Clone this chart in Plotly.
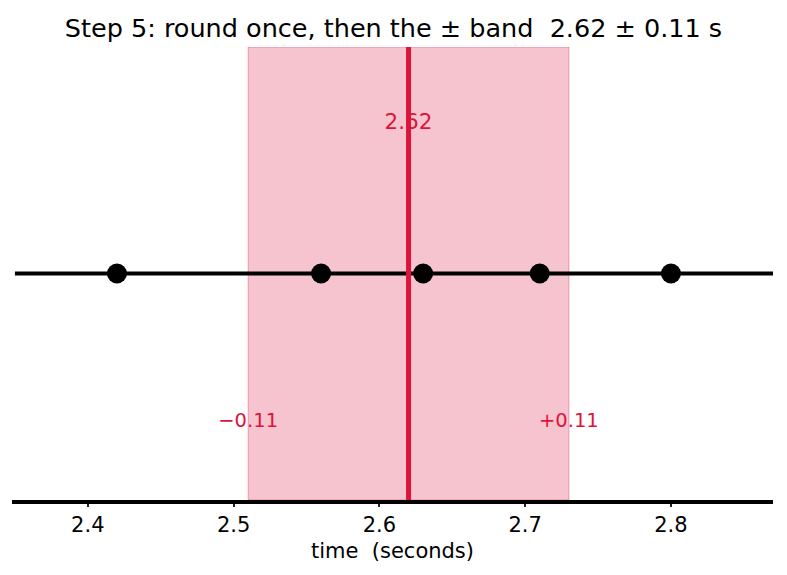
import plotly.graph_objects as go

# data
times = [2.42, 2.56, 2.63, 2.71, 2.80]
mean_val = 2.62
half_width = 0.11
x_range = [2.348, 2.870]
line_range = [2.350, 2.870]
tick_vals = [2.4, 2.5, 2.6, 2.7, 2.8]
tick_text = ["2.4", "2.5", "2.6", "2.7", "2.8"]

RED = "#dc143c"
FONT = "DejaVu Sans"

fig = go.Figure()

# black timeline
fig.add_trace(go.Scatter(x=line_range, y=[0, 0], mode="lines",
                         line=dict(color="black", width=4), hoverinfo="skip", showlegend=False))
fig.add_trace(go.Scatter(x=times, y=[0] * len(times), mode="markers",
                         marker=dict(color="black", size=20), showlegend=False))
# texts
fig.add_trace(go.Scatter(x=[mean_val], y=[0.66], mode="text", text=[f"{mean_val:.2f}"],
                         textfont=dict(color=RED, size=21.5, family=FONT), showlegend=False))
fig.add_trace(go.Scatter(x=[mean_val - half_width, mean_val + half_width], y=[-0.655, -0.655],
                         mode="text", text=[f"\u2212{half_width:.2f}", f"+{half_width:.2f}"],
                         textfont=dict(color=RED, size=19.5, family=FONT), showlegend=False))
# red mean line
fig.add_trace(go.Scatter(x=[mean_val, mean_val], y=[-1, 1], mode="lines",
                         line=dict(color=RED, width=5), hoverinfo="skip", showlegend=False))

# band
fig.add_shape(type="rect", xref="x", yref="y", x0=mean_val - half_width, x1=mean_val + half_width,
              y0=-1, y1=1, fillcolor="rgba(220,20,60,0.25)",
              line=dict(color="rgba(220,20,60,0.35)", width=1), layer="below")

fig.update_layout(
    width=787, height=575,
    margin=dict(l=12, r=14, t=47, b=75),
    paper_bgcolor="white", plot_bgcolor="white",
    font=dict(family=FONT, color="black"),
    title=dict(text=f"Step 5: round once, then the \u00b1 band  {mean_val:.2f} \u00b1 {half_width:.2f} s",
               x=0.5, xanchor="center", y=1 - 28 / 575, yanchor="middle",
               font=dict(size=25.5, family=FONT, color="black")),
    xaxis=dict(range=x_range, tickvals=tick_vals, ticktext=tick_text,
               showgrid=False, zeroline=False, showline=True, linecolor="black", linewidth=4,
               ticks="outside", ticklen=3, tickwidth=1.5, tickcolor="#222",
               tickfont=dict(size=21, family=FONT, color="black"),
               title=dict(text="time  (seconds)", font=dict(size=21, family=FONT, color="black"),
                          standoff=8)),
    yaxis=dict(range=[-1, 1], visible=False, showgrid=False, zeroline=False),
)

fig.write_html("out.html")
